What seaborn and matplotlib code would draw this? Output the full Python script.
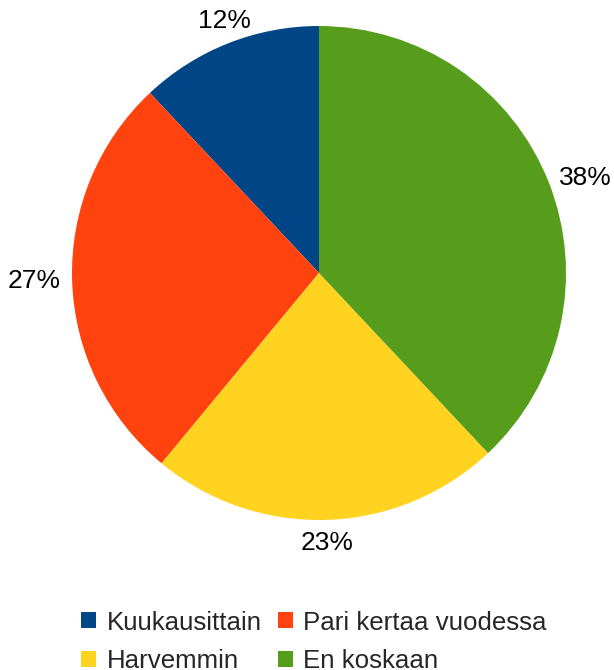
import numpy as np
import matplotlib.pyplot as plt
import seaborn as sns

# data
categories = ["Kuukausittain", "Pari kertaa vuodessa", "Harvemmin", "En koskaan"]
shares = [12, 27, 23, 38]
colors = ["#004586", "#ff420e", "#ffd320", "#579d1c"]

sns.set_theme(style="white")
plt.rcParams['font.family'] = ['Liberation Sans', 'DejaVu Sans']

fig = plt.figure(figsize=(6.14, 6.7), dpi=100)
ax = fig.add_axes([72 / 614, 150 / 670, 494 / 614, 494 / 670])

labels = [f"{v}%" for v in shares]
wedges, texts = ax.pie(shares, colors=colors, labels=labels, startangle=90,
                       counterclock=True, labeldistance=1.045,
                       wedgeprops=dict(linewidth=0),
                       textprops=dict(fontsize=19, color="black"))

# place labels like the office-style chart: outside, aligned by direction
for w, t in zip(wedges, texts):
    mid = np.deg2rad((w.theta1 + w.theta2) / 2)
    c, s = np.cos(mid), np.sin(mid)
    if abs(c) > abs(s):
        t.set_ha("left" if c > 0 else "right")
        t.set_va("center")
    else:
        t.set_ha("center")
        t.set_va("bottom" if s > 0 else "top")

ax.set_xlim(-1, 1)
ax.set_ylim(-1, 1)
ax.set_aspect("equal")
ax.axis("off")

# legend reads row by row: reorder for matplotlib's column filling
order = [0, 2, 1, 3]
fig.legend([wedges[i] for i in order], [categories[i] for i in order],
           ncol=2, loc="lower left",
           bbox_to_anchor=(58 / 614, -26 / 670), frameon=False,
           fontsize=18.6, handlelength=0.58, handleheight=0.58,
           handletextpad=0.4, columnspacing=0.62, labelspacing=0.55)

fig.savefig("out.png", dpi=100)
